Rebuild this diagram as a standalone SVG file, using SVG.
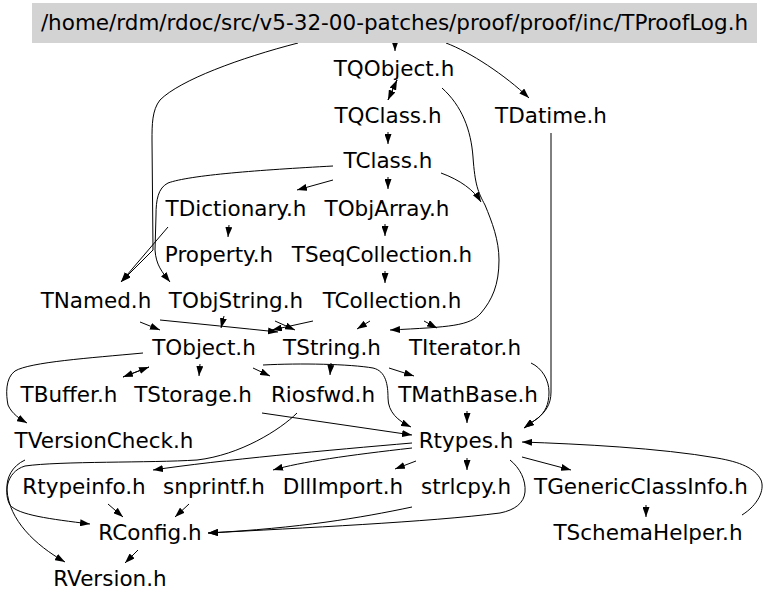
<svg xmlns="http://www.w3.org/2000/svg" width="768" height="604" viewBox="0 0 768 604">
<style>
text{font-family:"DejaVu Sans","Noto Sans",sans-serif;font-size:21.5px;fill:#000;text-anchor:middle}
.e path{fill:none;stroke:#000;stroke-width:1;marker-end:url(#a)}
</style>
<defs>
<marker id="a" markerWidth="10" markerHeight="7" refX="10" refY="3.5" orient="auto" markerUnits="userSpaceOnUse"><path d="M0,0 L10,3.5 L0,7 z" fill="#000"/></marker>
</defs>
<rect width="768" height="604" fill="#fff"/>
<g class="e" id="edges">
<path d="M395,42 L395,51"/>
<path d="M446,43 C470,52 505,75 529,98"/>
<path d="M298,43 C240,58 180,80 160,100 C152,110 152,125 152,140 L153,250 L121,282"/>
<path d="M397,80 L388,100"/>
<path d="M388,100 L397,80"/>
<path d="M442,88 C462,106 471,130 473,157 C475,185 478,192 485,205 C492,222 499,240 499,260 C499,285 492,300 481,313 C470,326 450,327 390,330"/>
<path d="M441,173 C460,180 474,190 481,202"/>
<path d="M388,132 L388,144"/>
<path d="M388,177 L388,189"/>
<path d="M333,180 L297,190"/>
<path d="M333,166 C260,170 190,175 168,183 C158,188 156,200 156,215 L155,250 C156,265 162,272 170,282"/>
<path d="M229,225 L228,237"/>
<path d="M168,227 L121,282"/>
<path d="M385,224 L385,236"/>
<path d="M385,271 L385,283"/>
<path d="M140,322 L160,330"/>
<path d="M160,320 C200,324 240,328 278,332"/>
<path d="M224,316 L221,328"/>
<path d="M275,321 L295,330"/>
<path d="M313,321 L272,330"/>
<path d="M370,321 L357,329"/>
<path d="M424,321 L437,328"/>
<path d="M149,367 L123,377"/>
<path d="M123,377 L149,367"/>
<path d="M200,364 L199,376"/>
<path d="M253,368 L270,376"/>
<path d="M263,365 C300,363 350,364 373,368 C386,371 388,385 388,398 C388,412 398,421 411,427"/>
<path d="M331,363 L330,375"/>
<path d="M389,368 L414,376"/>
<path d="M143,353 C90,358 30,362 15,371 C5,378 6,395 8,405 C12,414 20,419 27,423"/>
<path d="M467,411 L467,423"/>
<path d="M531,363 C542,368 549,380 549,392 C549,405 545,412 538,418 L524,428"/>
<path d="M551,133 L551,392 C551,405 545,412 538,418 L524,428"/>
<path d="M262,413 L412,435"/>
<path d="M297,413 C280,430 240,455 197,460 C150,463 60,461 25,466 C5,472 4,495 10,505 C18,515 50,519 90,524"/>
<path d="M25,460 C12,466 6,478 7,490 C9,520 35,545 65,562"/>
<path d="M412,443 C330,450 220,460 153,470"/>
<path d="M412,448 C350,455 300,462 273,470"/>
<path d="M416,461 L395,469"/>
<path d="M467,458 L467,470"/>
<path d="M522,457 L571,470"/>
<path d="M510,460 C520,468 526,480 525,492 C524,503 515,510 500,513 C430,522 300,528 208,533"/>
<path d="M412,507 C360,518 300,528 208,533"/>
<path d="M108,504 L123,517"/>
<path d="M189,504 L175,517"/>
<path d="M138,550 L125,563"/>
<path d="M646,505 L646,517"/>
<path d="M742,515 C758,505 765,490 761,480 C755,468 740,462 717,458 C660,448 580,444 522,442"/>
</g>
<g id="n_root"><rect x="32" y="3" width="725" height="40" fill="#d3d3d3"/><text x="394.5" y="30">/home/rdm/rdoc/src/v5-32-00-patches/proof/proof/inc/TProofLog.h</text></g>
<g id="n_TQObject"><text x="394" y="76">TQObject.h</text></g>
<g id="n_TQClass"><text x="388" y="123">TQClass.h</text></g>
<g id="n_TDatime"><text x="551" y="123">TDatime.h</text></g>
<g id="n_TClass"><text x="388" y="168">TClass.h</text></g>
<g id="n_TDictionary"><text x="236" y="216">TDictionary.h</text></g>
<g id="n_TObjArray"><text x="387" y="216">TObjArray.h</text></g>
<g id="n_Property"><text x="219" y="262">Property.h</text></g>
<g id="n_TSeqCollection"><text x="382" y="262">TSeqCollection.h</text></g>
<g id="n_TNamed"><text x="96" y="308">TNamed.h</text></g>
<g id="n_TObjString"><text x="236" y="308">TObjString.h</text></g>
<g id="n_TCollection"><text x="392" y="308">TCollection.h</text></g>
<g id="n_TObject"><text x="204" y="355">TObject.h</text></g>
<g id="n_TString"><text x="332" y="355">TString.h</text></g>
<g id="n_TIterator"><text x="465" y="355">TIterator.h</text></g>
<g id="n_TBuffer"><text x="69" y="402">TBuffer.h</text></g>
<g id="n_TStorage"><text x="193" y="402">TStorage.h</text></g>
<g id="n_Riosfwd"><text x="323" y="402">Riosfwd.h</text></g>
<g id="n_TMathBase"><text x="468" y="402">TMathBase.h</text></g>
<g id="n_TVersionCheck"><text x="104" y="448">TVersionCheck.h</text></g>
<g id="n_Rtypes"><text x="466" y="448">Rtypes.h</text></g>
<g id="n_Rtypeinfo"><text x="84" y="494">Rtypeinfo.h</text></g>
<g id="n_snprintf"><text x="214" y="494">snprintf.h</text></g>
<g id="n_DllImport"><text x="343" y="494">DllImport.h</text></g>
<g id="n_strlcpy"><text x="466" y="494">strlcpy.h</text></g>
<g id="n_TGenericClassInfo"><text x="641" y="494">TGenericClassInfo.h</text></g>
<g id="n_RConfig"><text x="150" y="540">RConfig.h</text></g>
<g id="n_TSchemaHelper"><text x="648" y="540">TSchemaHelper.h</text></g>
<g id="n_RVersion"><text x="110" y="586">RVersion.h</text></g>
</svg>
